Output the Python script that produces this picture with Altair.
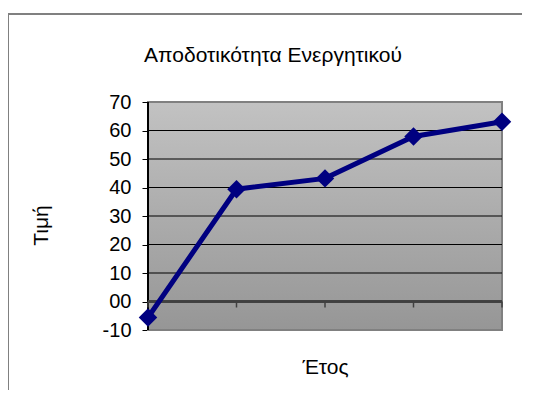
import altair as alt
import pandas as pd

# Data
years = ["1", "2", "3", "4", "5"]
values = [-5.6, 39.4, 43.2, 57.9, 63.1]
y_ticks = [-10, 0, 10, 20, 30, 40, 50, 60, 70]
grid_values = [10, 20, 30, 40, 50, 60]

title_text = "Αποδοτικότητα Ενεργητικού"
y_title = "Τιμή"
x_title = "Έτος"

FONT = "Liberation Sans, Arial, sans-serif"
NAVY = "#000080"

df = pd.DataFrame({"year": years, "value": values})
ticks_df = pd.DataFrame({"year": years})
grid_df = pd.DataFrame({"value": grid_values})

W, H = 354, 228

x_enc = alt.X(
    "year:O",
    sort=years,
    scale=alt.Scale(type="point", padding=0),
    axis=alt.Axis(
        title=x_title, labels=False, ticks=False, domain=False, grid=False,
        titleFont=FONT, titleFontSize=21, titleFontWeight="normal",
        titleColor="#000000", titleBaseline="middle", titleY=37,
    ),
)
y_axis = alt.Axis(
    title=y_title, values=y_ticks, tickCount=len(y_ticks),
    labelExpr="datum.value == 0 ? '00' : (datum.value < 0 ? '-' + abs(datum.value) : '' + datum.value)",
    labelOverlap=False,
    labelFont=FONT, labelFontSize=20, labelColor="#000000", labelPadding=11,
    tickSize=6, tickColor="#000000", domain=False, grid=False,
    titleFont=FONT, titleFontSize=21, titleFontWeight="normal",
    titleColor="#000000", titleAngle=270, titleBaseline="middle",
    titleX=-107, titleY=123,
)
y_scale = alt.Scale(domain=[-10, 70], nice=False, zero=False)
y_enc = alt.Y("value:Q", scale=y_scale, axis=y_axis)

frame = alt.Chart(df).mark_rect(
    fillOpacity=0, stroke="#808080", strokeWidth=2
).encode(
    x=alt.value(-140), y=alt.value(-88), x2=alt.value(700), y2=alt.value(600)
)

background = alt.Chart(df).mark_rect(
    color=alt.LinearGradient(
        gradient="linear",
        stops=[alt.GradientStop(color="#c2c2c2", offset=0),
               alt.GradientStop(color="#969696", offset=1)],
        x1=0, x2=0, y1=0, y2=1,
    ),
    stroke="#808080", strokeWidth=2,
).encode(x=alt.value(0), x2=alt.value(W), y=alt.value(0), y2=alt.value(H))

grid = alt.Chart(grid_df).mark_rule(color="#000000", strokeWidth=1.2).encode(
    y=y_enc
)

y_domain = alt.Chart(df).mark_rule(color="#000000", strokeWidth=1.5).encode(
    x=alt.value(0)
)

zero_line = alt.Chart(df).mark_rule(color="#404040", strokeWidth=2).encode(
    y=alt.datum(0)
)

x_ticks = alt.Chart(ticks_df).mark_rule(color="#404040", strokeWidth=1.5, y2Offset=6).encode(
    x=alt.X("year:O", sort=years),
    y=alt.datum(0),
    y2=alt.datum(0),
)

line = alt.Chart(df).mark_line(color=NAVY, strokeWidth=5).encode(x=x_enc, y=y_enc)
points = alt.Chart(df).mark_point(
    shape="diamond", filled=True, size=340, color=NAVY, opacity=1
).encode(x=alt.X("year:O", sort=years), y=y_enc)

chart = alt.layer(
    frame, background, grid, y_domain, zero_line, x_ticks, line, points
).properties(
    width=W,
    height=H,
    autosize=alt.AutoSizeParams(type="none"),
    padding={"left": 140, "top": 94, "right": 20, "bottom": 60},
    title=alt.TitleParams(
        text=title_text, font=FONT, fontSize=21, fontWeight="normal",
        color="#000000", anchor="middle", dx=-52, baseline="middle", offset=-64,
    ),
).configure_view(
    stroke=None,
).configure_axisY(
    labelOverlap=False,
).configure(background="#ffffff")

chart.save("out.html", embed_options={"renderer": "svg", "actions": False})
